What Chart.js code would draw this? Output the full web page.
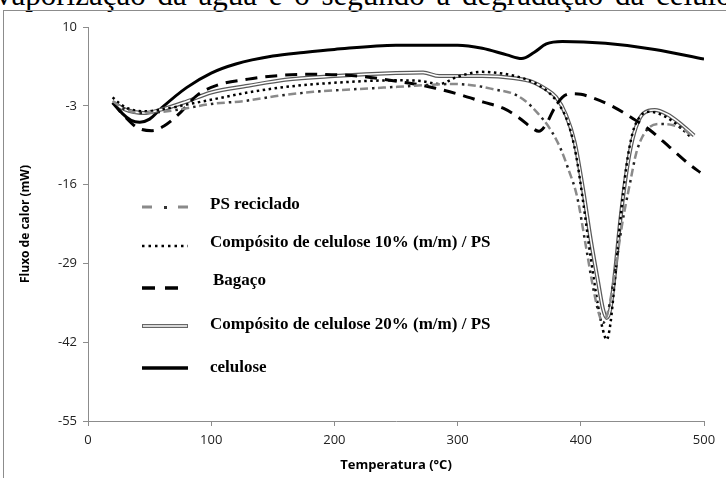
<!DOCTYPE html>
<html>
<head>
<meta charset="utf-8">
<script src="https://cdn.jsdelivr.net/npm/chart.js@4.4.0/dist/chart.umd.min.js"></script>
<style>
body{margin:0;background:#fff;width:726px;height:478px;overflow:hidden;position:relative;}
#topline{position:absolute;left:-4px;top:-23px;font-family:"Liberation Serif";font-size:31px;word-spacing:4px;white-space:nowrap;color:#000;}
#frame{position:absolute;left:3px;top:10px;width:740px;height:480px;border-left:1.5px solid #8c8c8c;border-top:1.5px solid #8c8c8c;}
#wrap{position:absolute;left:0;top:0;width:726px;height:478px;}
</style>
</head>
<body>
<div id="topline">vaporização da água e o segundo a degradação da celulose</div>
<div id="frame"></div>
<div id="wrap"><canvas id="myChart" width="726" height="478"></canvas></div>
<script>
// valores (Temperatura em °C, fluxo de calor em mW)
const x_ticks = [0, 100, 200, 300, 400, 500];
const y_ticks = [-55, -42, -29, -16, -3, 10];

const legend_labels = ['PS reciclado', 'Compósito de celulose 10% (m/m) / PS', 'Bagaço', 'Compósito de celulose 20% (m/m) / PS', 'celulose'];

const temp_ps = [20, 30, 45, 60, 80, 100, 127, 156, 183, 213, 240, 265, 296, 315, 330, 345, 355, 365, 375, 383, 390, 397, 404, 410, 415, 418, 422, 428, 434, 440, 445, 450, 456, 465, 475, 482, 490];
const fluxo_ps = [-2.2, -3.6, -4.2, -4.0, -3.4, -2.7, -2.2, -1.3, -0.7, -0.3, 0.0, 0.3, 0.6, 0.3, -0.3, -1.0, -2.2, -4.2, -6.8, -9.8, -13.5, -18, -26, -33, -37.5, -38.8, -37, -30, -22, -15.7, -10.8, -8.1, -6.5, -6.0, -6.2, -6.7, -7.9];

const temp_10 = [20, 25, 32, 45, 60, 80, 100, 130, 160, 200, 250, 270, 285, 300, 320, 340, 355, 365, 375, 383, 390, 396, 402, 408, 414, 418, 421, 424, 428, 432, 437, 442, 448, 455, 462, 472, 482, 490];
const fluxo_10 = [-1.6, -2.5, -3.4, -3.9, -3.6, -2.8, -2.0, -0.8, 0.1, 0.8, 1.2, 1.1, 0.6, 1.8, 2.6, 2.2, 1.4, 0.5, -1.0, -3.0, -6.0, -11, -19, -28, -36, -40, -41.6, -39, -31, -22, -13, -7.5, -4.8, -4.0, -4.2, -5.2, -6.8, -8.3];

const temp_bagaco = [20, 30, 40, 52, 62, 73, 89, 105, 130, 155, 180, 205, 225, 245, 265, 282, 301, 321, 337, 350, 360, 366, 372, 378, 385, 392, 400, 410, 424, 440, 456, 472, 489, 497];
const fluxo_bagaco = [-2.5, -4.8, -6.6, -7.1, -6.3, -4.5, -1.2, 0.4, 1.4, 2.0, 2.2, 2.1, 1.8, 1.2, 0.6, -0.1, -1.1, -2.4, -3.4, -5.0, -6.6, -7.2, -6.0, -3.6, -1.6, -1.0, -1.1, -1.7, -2.9, -4.8, -7.0, -9.8, -12.8, -14.0];

const temp_20 = [20, 30, 45, 60, 80, 100, 130, 160, 200, 250, 272, 285, 320, 345, 360, 372, 380, 388, 395, 402, 408, 414, 418, 421, 424, 428, 432, 437, 442, 448, 455, 460, 470, 480, 492];
const fluxo_20 = [-2.4, -3.6, -4.2, -3.6, -2.3, -0.8, 0.3, 1.3, 1.9, 2.4, 2.5, 1.9, 1.9, 1.6, 1.0, -0.3, -1.6, -4.5, -9, -17, -25, -32, -36.5, -38, -36.5, -30, -22, -14, -8.5, -5, -3.8, -3.7, -4.4, -5.8, -7.9];

const temp_celulose = [22, 28, 35, 42, 50, 60, 80, 100, 120, 150, 175, 200, 250, 300, 320, 340, 352, 362, 372, 385, 420, 460, 500];
const fluxo_celulose = [-2.8, -4.3, -5.4, -5.7, -5.2, -3.3, 0.0, 2.4, 3.9, 5.2, 5.8, 6.3, 7.0, 7.0, 6.5, 5.4, 4.8, 5.8, 7.2, 7.6, 7.3, 6.3, 4.7];

function to_points(temps, values){
    return temps.map((t, i) => ({x: t, y: values[i]}));
}

function line(data, color, width, dash, order, offset){
    return {
        data: data,
        borderColor: color,
        borderWidth: width,
        borderDash: dash,
        borderDashOffset: offset || 0,
        pointRadius: 0,
        fill: false,
        cubicInterpolationMode: 'monotone',
        order: order
    };
}

const ps_points = to_points(temp_ps, fluxo_ps);
const p10_points = to_points(temp_10, fluxo_10);
const bagaco_points = to_points(temp_bagaco, fluxo_bagaco);
const p20_points = to_points(temp_20, fluxo_20);
const celulose_points = to_points(temp_celulose, fluxo_celulose);

// legenda desenhada dentro da area do grafico
const legend_plugin = {
    id: 'legend_box',
    afterDraw(chart){
        const ctx = chart.ctx;
        const x0 = 142, x1 = 188, tx = 210;
        const rows = [205, 243, 281, 325, 368];
        ctx.save();
        ctx.font = 'bold 17px "Liberation Serif"';
        ctx.fillStyle = '#000';
        ctx.textBaseline = 'middle';
        legend_labels.forEach((lab, i) => {
            ctx.fillText(lab, tx + (i == 2 ? 3 : 0), rows[i]);
        });
        // PS reciclado
        ctx.lineCap = 'butt';
        ctx.strokeStyle = '#8a8a8a'; ctx.lineWidth = 3;
        ctx.beginPath(); ctx.moveTo(x0, 207); ctx.lineTo(x0 + 10, 207); ctx.moveTo(x1 - 10, 207); ctx.lineTo(x1, 207); ctx.stroke();
        ctx.fillStyle = '#333'; ctx.fillRect(164, 206, 3, 3);
        // 10%
        ctx.strokeStyle = '#000'; ctx.lineWidth = 2.5; ctx.setLineDash([2.5, 4]);
        ctx.beginPath(); ctx.moveTo(x0, 246); ctx.lineTo(x1, 246); ctx.stroke();
        // Bagaço
        ctx.lineWidth = 3.5; ctx.setLineDash([13, 10]);
        ctx.beginPath(); ctx.moveTo(x0, 288); ctx.lineTo(x1 - 8, 288); ctx.stroke();
        ctx.setLineDash([]);
        // 20%
        ctx.strokeStyle = '#666'; ctx.lineWidth = 4;
        ctx.beginPath(); ctx.moveTo(x0, 326); ctx.lineTo(x1, 326); ctx.stroke();
        ctx.strokeStyle = '#fff'; ctx.lineWidth = 1.5;
        ctx.beginPath(); ctx.moveTo(x0 + 1, 326); ctx.lineTo(x1 - 1, 326); ctx.stroke();
        // celulose
        ctx.strokeStyle = '#000'; ctx.lineWidth = 3.5;
        ctx.beginPath(); ctx.moveTo(x0, 368); ctx.lineTo(x1, 368); ctx.stroke();
        ctx.restore();
    }
};

const ctx = document.getElementById('myChart').getContext('2d');
const myChart = new Chart(ctx, {
    type: 'line',
    data: {
        datasets: [
            line(celulose_points, '#000', 3, [], 5),
            line(p20_points, '#5a5a5a', 4, [], 4),
            line(p20_points, '#fff', 1.5, [], 3),
            line(p10_points, '#000', 2.5, [2.5, 3.5], 2),
            line(bagaco_points, '#000', 3, [12, 8], 1),
            line(ps_points, '#8a8a8a', 2.5, [8, 10], 0),
            line(ps_points, '#222', 2.5, [2.5, 15.5], 0, 6)
        ]
    },
    options: {
        responsive: false,
        animation: false,
        events: [],
        layout: {
            padding: {left: 0, top: 27, right: 22, bottom: 0}
        },
        scales: {
            x: {
                type: 'linear',
                min: 0,
                max: 500,
                afterBuildTicks: axis => { axis.ticks = x_ticks.map(v => ({value: v})); },
                afterFit: axis => { axis.height = 57; },
                grid: {
                    drawOnChartArea: false,
                    drawTicks: true,
                    tickLength: 5,
                    color: '#8c8c8c'
                },
                border: {color: '#8c8c8c', width: 1},
                ticks: {
                    padding: 6,
                    color: '#222',
                    font: {family: 'Open Sans', size: 13}
                },
                title: {
                    display: true,
                    text: 'Temperatura (°C)',
                    color: '#000',
                    padding: {top: 0, bottom: 5},
                    font: {family: 'Open Sans', size: 13, weight: 'bold'}
                }
            },
            y: {
                min: -55,
                max: 10,
                afterBuildTicks: axis => { axis.ticks = y_ticks.map(v => ({value: v})); },
                afterFit: axis => { axis.width = 88; },
                grid: {
                    drawOnChartArea: false,
                    drawTicks: true,
                    tickLength: 5,
                    color: '#8c8c8c'
                },
                border: {color: '#8c8c8c', width: 1},
                ticks: {
                    padding: 6,
                    color: '#222',
                    font: {family: 'Open Sans', size: 13}
                },
                title: {
                    display: true,
                    text: 'Fluxo de calor (mW)',
                    color: '#000',
                    padding: {top: 18, bottom: 0},
                    font: {family: 'Open Sans', size: 12, weight: 'bold'}
                }
            }
        },
        plugins: {
            legend: {display: false},
            tooltip: {enabled: false}
        }
    },
    plugins: [legend_plugin]
});
</script>
</body>
</html>
